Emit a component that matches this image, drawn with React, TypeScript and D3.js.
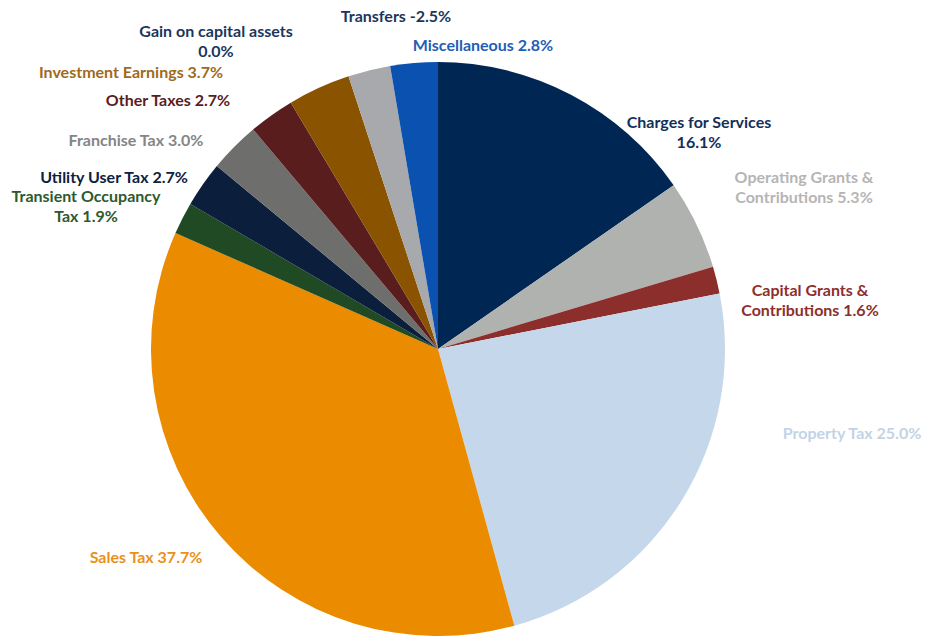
import React, { useEffect } from "react";
import * as d3 from "d3";

const categories = [
  "Charges for Services",
  "Operating Grants & Contributions",
  "Capital Grants & Contributions",
  "Property Tax",
  "Sales Tax",
  "Transient Occupancy Tax",
  "Utility User Tax",
  "Franchise Tax",
  "Other Taxes",
  "Investment Earnings",
  "Gain on capital assets",
  "Transfers",
  "Miscellaneous",
];
const values = [16.1, 5.3, 1.6, 25.0, 37.7, 1.9, 2.7, 3.0, 2.7, 3.7, 0.0, -2.5, 2.8];
const sliceColors = [
  "#002654", "#b0b2af", "#8c2f2c", "#c5d7ea", "#ea8b00", "#1f4a24",
  "#0b1e3c", "#6e6f6d", "#5a1d1d", "#8a5300", "#d0d0d0", "#a7a9ac", "#0b52b0",
];
const labelColors = [
  "#14305a", "#b5b5b5", "#8c2f2c", "#c3d3e6", "#e9911a", "#2c5a2c",
  "#0d2040", "#858585", "#5a1d1d", "#a06a1c", "#1b365d", "#1b365d", "#1f5eb4",
];
const labelLines: string[][] = [
  ["Charges for Services", "16.1%"],
  ["Operating Grants &", "Contributions 5.3%"],
  ["Capital Grants &", "Contributions 1.6%"],
  ["Property Tax 25.0%"],
  ["Sales Tax 37.7%"],
  ["Transient Occupancy", "Tax 1.9%"],
  ["Utility User Tax 2.7%"],
  ["Franchise Tax 3.0%"],
  ["Other Taxes 2.7%"],
  ["Investment Earnings 3.7%"],
  ["Gain on capital assets", "0.0%"],
  ["Transfers -2.5%"],
  ["Miscellaneous 2.8%"],
];
// label anchor (center x, first-line center y)
const labelPos: [number, number][] = [
  [699, 122], [804, 177], [810, 290], [852, 433], [146, 557], [86, 196],
  [114, 177], [136, 140], [168, 100], [131, 72], [216, 31], [396, 16], [483, 45],
];

const W = 925, H = 637, CX = 438, CY = 349, R = 287;

export default function App() {
  useEffect(() => {
    document.body.style.margin = "0";
  }, []);
  const pie = d3
    .pie<number>()
    .sort(null)
    .value((v) => Math.abs(v));
  const arcs = pie(values);
  const arc = d3.arc<d3.PieArcDatum<number>>().innerRadius(0).outerRadius(R);
  return (
    <svg width={W} height={H} style={{ display: "block", background: "#fff" }}>
      <g transform={`translate(${CX},${CY})`}>
        {arcs.map((a, i) => (
          <path key={categories[i]} d={arc(a) || ""} fill={sliceColors[i]} />
        ))}
      </g>
      <g fontFamily="Lato, 'Open Sans', sans-serif" fontWeight="bold" fontSize={16} textAnchor="middle">
        {labelLines.map((lines, i) => (
          <text key={i} fill={labelColors[i]}>
            {lines.map((ln, j) => (
              <tspan key={j} x={labelPos[i][0]} y={labelPos[i][1] + 5.5 + j * 20}>
                {ln}
              </tspan>
            ))}
          </text>
        ))}
      </g>
    </svg>
  );
}
